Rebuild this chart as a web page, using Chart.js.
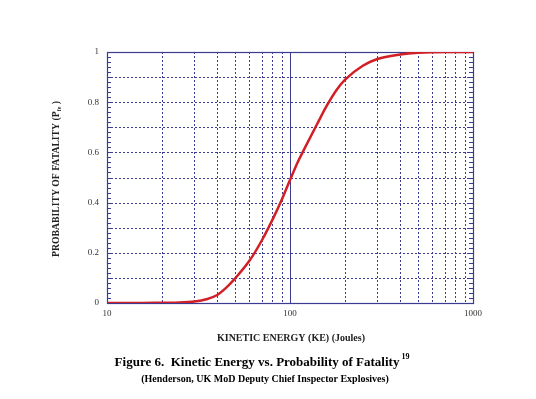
<!DOCTYPE html>
<html lang="en">
<head>
    <meta charset="UTF-8">
    <title>Kinetic Energy vs. Probability of Fatality</title>
    <script src="https://cdn.jsdelivr.net/npm/chart.js"></script>
    <style>
        html, body { margin: 0; padding: 0; background: #fff; }
        #wrap { width: 536px; height: 399px; }
    </style>
</head>
<body>
    <div id="wrap"><canvas id="myChart" width="536" height="399"></canvas></div>
    <script>
        // values
        const kineticEnergy = [10, 15, 20, 25, 30, 35, 40, 45, 50, 60, 70, 80, 90, 100, 110, 120, 140, 160, 180, 200, 250, 300, 400, 500, 700, 1000];
        const pFatality = [0, 0, 0.001, 0.002, 0.006, 0.015, 0.032, 0.062, 0.097, 0.168, 0.248, 0.33, 0.41, 0.49, 0.56, 0.615, 0.71, 0.79, 0.85, 0.89, 0.945, 0.972, 0.99, 0.997, 1.0, 1.0];
        const xLabelTicks = [10, 100, 1000];
        const xGridTicks = [20, 30, 40, 50, 60, 70, 80, 90, 100, 200, 300, 400, 500, 600, 700, 800, 900];
        const yGridTicks = [0.1, 0.2, 0.3, 0.4, 0.5, 0.6, 0.7, 0.8, 0.9];

        const frameColor = '#3b3b8f';
        const serif = '"Liberation Serif", "Times New Roman", serif';

        // grid, frame and minor ticks drawn with the chart's own scales
        const framePlugin = {
            id: 'frame',
            beforeDatasetsDraw(chart) {
                const { ctx, chartArea: a, scales: { x, y } } = chart;
                ctx.save();
                ctx.lineWidth = 1;
                ctx.strokeStyle = frameColor;
                ctx.setLineDash([2, 2]);
                yGridTicks.forEach(v => {
                    const py = Math.round(y.getPixelForValue(v)) + 0.5;
                    ctx.beginPath(); ctx.moveTo(a.left, py); ctx.lineTo(a.right, py); ctx.stroke();
                });
                xGridTicks.forEach(v => {
                    const px = Math.round(x.getPixelForValue(v)) + 0.5;
                    if (v === 100) ctx.setLineDash([]); else ctx.setLineDash([2, 2]);
                    ctx.beginPath(); ctx.moveTo(px, a.top); ctx.lineTo(px, a.bottom); ctx.stroke();
                });
                ctx.setLineDash([]);
                // minor ticks on left and right
                for (let i = 1; i < 50; i++) {
                    const py = Math.round(y.getPixelForValue(i * 0.02)) + 0.5;
                    ctx.beginPath();
                    ctx.moveTo(a.left, py); ctx.lineTo(a.left + 4, py);
                    ctx.moveTo(a.right, py); ctx.lineTo(a.right - 4, py);
                    ctx.stroke();
                }
                ctx.lineWidth = 1.2;
                ctx.strokeRect(Math.round(a.left) + 0.5, Math.round(a.top) + 0.5, Math.round(a.right - a.left), Math.round(a.bottom - a.top));
                ctx.restore();
            },
            afterDraw(chart) {
                const { ctx } = chart;
                ctx.save();
                ctx.fillStyle = '#222';
                // x axis title
                ctx.font = 'bold 10px ' + serif;
                ctx.textAlign = 'center';
                ctx.textBaseline = 'middle';
                ctx.fillText('KINETIC ENERGY (KE) (Joules)', 291, 338);
                // y axis title with subscript
                ctx.translate(56, 179);
                ctx.rotate(-Math.PI / 2);
                ctx.textAlign = 'left';
                ctx.font = 'bold 9.7px ' + serif;
                const main = 'PROBABILITY OF FATALITY (P';
                const wMain = ctx.measureText(main).width;
                ctx.font = 'bold 6px ' + serif;
                const wSub = ctx.measureText('fe').width;
                ctx.font = 'bold 9.7px ' + serif;
                const wEnd = ctx.measureText(' )').width;
                const start = -(wMain + wSub + wEnd) / 2;
                ctx.fillText(main, start, 0);
                ctx.font = 'bold 6px ' + serif;
                ctx.fillText('fe', start + wMain, 3);
                ctx.font = 'bold 9.7px ' + serif;
                ctx.fillText(' )', start + wMain + wSub, 0);
                ctx.restore();

                // figure caption
                ctx.save();
                ctx.fillStyle = '#000';
                ctx.textBaseline = 'middle';
                ctx.font = 'bold 13px ' + serif;
                const cap = 'Figure 6.  Kinetic Energy vs. Probability of Fatality';
                const wc = ctx.measureText(cap).width;
                ctx.font = 'bold 8px ' + serif;
                const ws = ctx.measureText(' 19').width;
                const cx = 262 - (wc + ws) / 2;
                ctx.font = 'bold 13px ' + serif;
                ctx.textAlign = 'left';
                ctx.fillText(cap, cx, 363);
                ctx.font = 'bold 8px ' + serif;
                ctx.fillText(' 19', cx + wc, 357);
                ctx.font = 'bold 10px ' + serif;
                ctx.textAlign = 'center';
                ctx.fillText('(Henderson, UK MoD Deputy Chief Inspector Explosives)', 265, 379);
                ctx.restore();
            }
        };

        new Chart(document.getElementById('myChart'), {
            type: 'line',
            data: {
                labels: kineticEnergy,
                datasets: [{
                    data: kineticEnergy.map((k, i) => ({ x: k, y: pFatality[i] })),
                    borderColor: '#d21f26',
                    borderWidth: 2.5,
                    pointRadius: 0,
                    fill: false,
                    cubicInterpolationMode: 'monotone'
                }]
            },
            options: {
                responsive: false,
                animation: false,
                devicePixelRatio: 1,
                layout: { padding: { left: 0, right: 63, top: 52, bottom: 76 } },
                plugins: { legend: { display: false }, tooltip: { enabled: false } },
                scales: {
                    x: {
                        type: 'logarithmic',
                        min: 10,
                        max: 1000,
                        grid: { display: false, drawTicks: false, tickLength: 0 },
                        border: { display: false },
                        afterBuildTicks: s => { s.ticks = xLabelTicks.map(v => ({ value: v })); },
                        afterFit: s => { s.height = 20; },
                        ticks: {
                            autoSkip: false,
                            maxRotation: 0,
                            padding: 5,
                            color: '#333',
                            font: { family: serif, size: 9 },
                            callback: v => String(v)
                        }
                    },
                    y: {
                        min: 0,
                        max: 1,
                        grid: { display: false, drawTicks: false, tickLength: 0 },
                        border: { display: false },
                        afterFit: s => { s.width = 107; },
                        ticks: {
                            stepSize: 0.2,
                            padding: 8,
                            color: '#333',
                            font: { family: serif, size: 9 },
                            callback: v => String(Math.round(v * 10) / 10)
                        }
                    }
                }
            },
            plugins: [framePlugin]
        });
    </script>
</body>
</html>
